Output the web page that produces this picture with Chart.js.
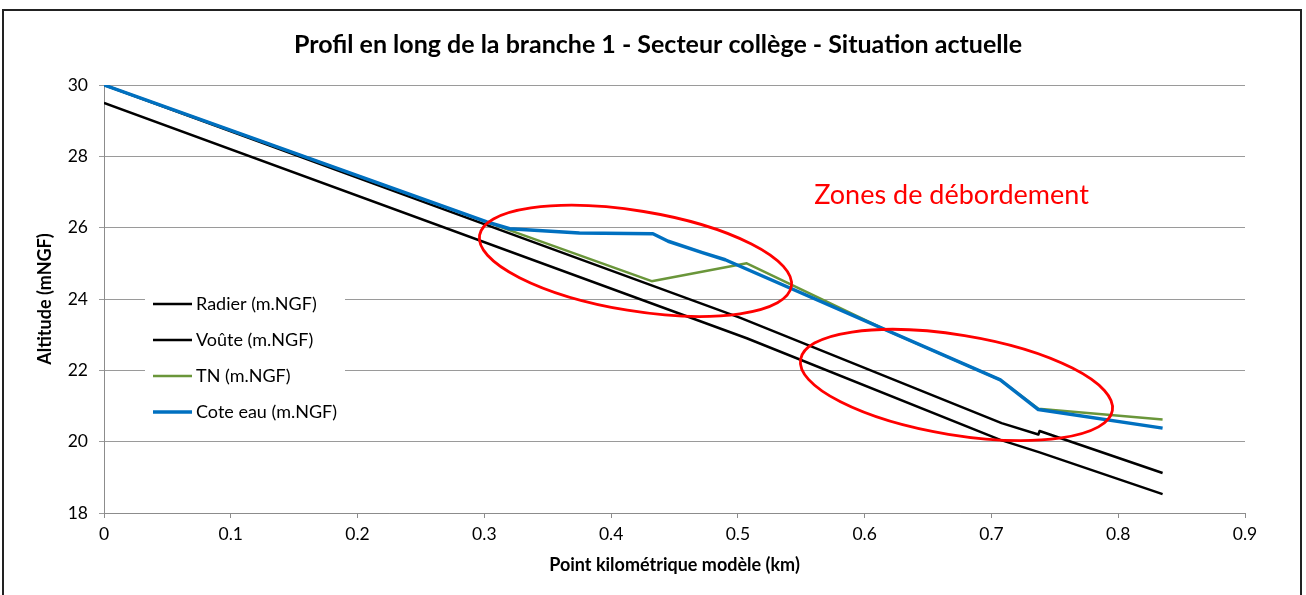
<!DOCTYPE html>
<html>
<head>
<meta charset="utf-8">
<script src="https://cdn.jsdelivr.net/npm/chart.js@4.4.1/dist/chart.umd.min.js"></script>
<style>
  html, body { margin: 0; padding: 0; background: #fff; }
  #wrap { width: 1306px; height: 595px; position: relative; }
</style>
</head>
<body>
<div id="wrap"><canvas id="myChart" width="1306" height="595"></canvas></div>
<script>
// profil en long
const radierKm = [0, 0.507, 0.707, 0.738, 0.835];
const radierAlt = [29.5, 22.9, 20.05, 19.7, 18.53];

const vouteKm = [0, 0.502, 0.708, 0.737, 0.738, 0.835];
const vouteAlt = [30, 23.47, 20.52, 20.2, 20.3, 19.12];

const tnKm = [0, 0.432, 0.507, 0.62, 0.707, 0.737, 0.835];
const tnAlt = [30, 24.5, 25.0, 23.08, 21.73, 20.92, 20.62];

const eauKm = [0, 0.302, 0.32, 0.375, 0.433, 0.445, 0.472, 0.49, 0.707, 0.737, 0.835];
const eauAlt = [30, 26.16, 25.97, 25.85, 25.83, 25.62, 25.3, 25.1, 21.73, 20.9, 20.38];

const xTicks = [0, 0.1, 0.2, 0.3, 0.4, 0.5, 0.6, 0.7, 0.8, 0.9];
const yTicks = [18, 20, 22, 24, 26, 28, 30];

// zones entourées (centre en km / m)
const zonesKm = [0.4192, 0.6724];
const zonesAlt = [25.07, 21.59];

const titre = 'Profil en long de la branche 1 - Secteur collège - Situation actuelle';

function pts(xs, ys) {
  return xs.map(function (x, i) { return { x: x, y: ys[i] }; });
}

const FONT = 'Lato, "Liberation Sans", sans-serif';

const data = {
  datasets: [{
    label: 'Radier (m.NGF)',
    data: pts(radierKm, radierAlt),
    borderColor: '#000000',
    borderWidth: 2.5,
    order: 4
  }, {
    label: 'Voûte (m.NGF)',
    data: pts(vouteKm, vouteAlt),
    borderColor: '#000000',
    borderWidth: 2.5,
    order: 3
  }, {
    label: 'TN (m.NGF)',
    data: pts(tnKm, tnAlt),
    borderColor: '#6A963A',
    borderWidth: 2.5,
    order: 2
  }, {
    label: 'Cote eau (m.NGF)',
    data: pts(eauKm, eauAlt),
    borderColor: '#0070C0',
    borderWidth: 3.5,
    order: 1
  }]
};

// cadre exterieur + titre
const framePlugin = {
  id: 'frame',
  beforeDraw: function (chart) {
    const ctx = chart.ctx;
    ctx.save();
    ctx.fillStyle = '#fff';
    ctx.fillRect(0, 0, chart.width, chart.height);
    ctx.strokeStyle = '#222';
    ctx.lineWidth = 2;
    ctx.strokeRect(3, 10, 1298, 600);
    ctx.fillStyle = '#000';
    ctx.font = 'bold 25px ' + FONT;
    ctx.textAlign = 'center';
    ctx.textBaseline = 'middle';
    ctx.fillText(titre, 658, 45);
    ctx.restore();
  }
};

// ellipses rouges + texte
const zonesPlugin = {
  id: 'zones',
  afterDatasetsDraw: function (chart) {
    const ctx = chart.ctx;
    const xs = chart.scales.x, ys = chart.scales.y;
    ctx.save();
    ctx.strokeStyle = '#FF0000';
    ctx.lineWidth = 2.8;
    for (let i = 0; i < zonesKm.length; i++) {
      ctx.beginPath();
      ctx.ellipse(xs.getPixelForValue(zonesKm[i]), ys.getPixelForValue(zonesAlt[i]), 158, 50, 9.3 * Math.PI / 180, 0, Math.PI * 2);
      ctx.stroke();
    }
    ctx.fillStyle = '#FF0000';
    ctx.font = '27px ' + FONT;
    ctx.textAlign = 'center';
    ctx.textBaseline = 'middle';
    ctx.fillText('Zones de débordement', xs.getPixelForValue(0.6685), ys.getPixelForValue(26.92));
    ctx.restore();
  }
};

// legende dans la zone du graphique
const legendPlugin = {
  id: 'insideLegend',
  afterDraw: function (chart) {
    const ctx = chart.ctx;
    const area = chart.chartArea;
    const x0 = area.left + 49;
    const y0 = area.top + 219;
    ctx.save();
    ctx.fillStyle = '#fff';
    ctx.fillRect(area.left + 41, area.top + 199, 200, 148);
    ctx.font = '18px ' + FONT;
    ctx.textBaseline = 'middle';
    ctx.textAlign = 'left';
    chart.data.datasets.forEach(function (ds, i) {
      const y = y0 + i * 36;
      ctx.strokeStyle = ds.borderColor;
      ctx.lineWidth = ds.borderWidth;
      ctx.beginPath();
      ctx.moveTo(x0, y);
      ctx.lineTo(x0 + 39, y);
      ctx.stroke();
      ctx.fillStyle = '#000';
      ctx.fillText(ds.label, x0 + 43, y);
    });
    ctx.restore();
  }
};

const config = {
  type: 'line',
  data: data,
  options: {
    responsive: false,
    animation: false,
    layout: { padding: { left: 0, right: 61, top: 85, bottom: 0 } },
    elements: {
      point: { radius: 0 },
      line: { tension: 0, borderJoinStyle: 'round', fill: false }
    },
    plugins: {
      legend: { display: false },
      tooltip: { enabled: false },
      title: { display: false }
    },
    scales: {
      x: {
        type: 'linear',
        min: 0,
        max: 0.9,
        afterBuildTicks: function (scale) {
          scale.ticks = xTicks.map(function (v) { return { value: v }; });
        },
        afterFit: function (scale) { scale.height = 82; },
        ticks: {
          color: '#000',
          font: { family: FONT, size: 17.5 },
          padding: 6,
          maxRotation: 0,
          callback: function (v) { return String(v); }
        },
        grid: { drawOnChartArea: false, drawTicks: true, tickLength: 5, color: '#8c8c8c' },
        border: { color: '#8c8c8c' },
        title: {
          display: true,
          text: 'Point kilométrique modèle (km)',
          color: '#000',
          font: { family: FONT, size: 18, weight: 'bold', lineHeight: 1.2 },
          padding: { top: 0, bottom: 19 }
        }
      },
      y: {
        min: 18,
        max: 30,
        afterBuildTicks: function (scale) {
          scale.ticks = yTicks.map(function (v) { return { value: v }; });
        },
        afterFit: function (scale) { scale.width = 104; },
        ticks: {
          color: '#000',
          font: { family: FONT, size: 17.5 },
          padding: 11
        },
        grid: { color: '#9a9a9a', tickLength: 5, drawTicks: true },
        border: { color: '#8c8c8c' },
        title: {
          display: true,
          text: 'Altitude (mNGF)',
          color: '#000',
          font: { family: FONT, size: 18, weight: 'bold', lineHeight: 1.2 },
          padding: { top: 34, bottom: 0 }
        }
      }
    }
  },
  plugins: [framePlugin, zonesPlugin, legendPlugin]
};

var myChart = new Chart(document.getElementById('myChart'), config);
</script>
</body>
</html>
